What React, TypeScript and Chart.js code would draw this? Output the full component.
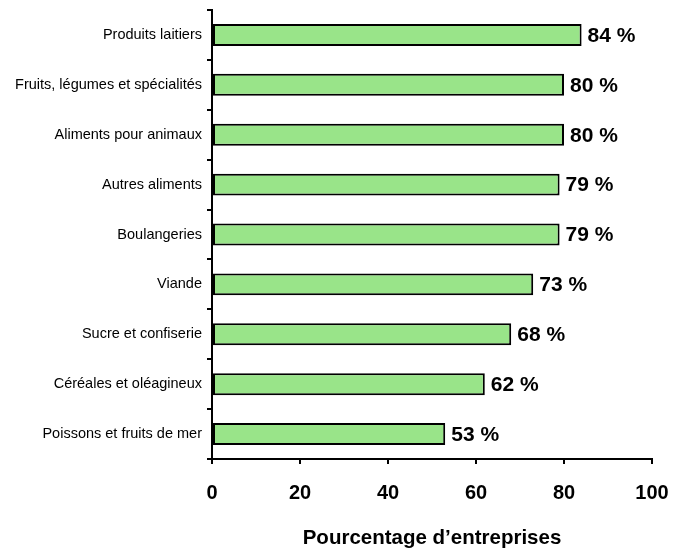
import React, { useEffect, useRef } from "react";
import { Chart, registerables } from "chart.js";

Chart.register(...registerables);

const categories = [
  "Produits laitiers",
  "Fruits, légumes et spécialités",
  "Aliments pour animaux",
  "Autres aliments",
  "Boulangeries",
  "Viande",
  "Sucre et confiserie",
  "Céréales et oléagineux",
  "Poissons et fruits de mer",
];
const values = [84, 80, 80, 79, 79, 73, 68, 62, 53];
const valueLabels = ["84 %", "80 %", "80 %", "79 %", "79 %", "73 %", "68 %", "62 %", "53 %"];
const xTicks = [0, 20, 40, 60, 80, 100];
const xTitle = "Pourcentage d’entreprises";

const FONT = "'Liberation Sans', Arial, sans-serif";

const valueLabelPlugin = {
  id: "valueLabels",
  afterDatasetsDraw(chart: any) {
    const ctx = chart.ctx;
    const meta = chart.getDatasetMeta(0);
    ctx.save();
    ctx.font = `bold 21px ${FONT}`;
    ctx.fillStyle = "#000";
    ctx.textAlign = "left";
    ctx.textBaseline = "middle";
    meta.data.forEach((bar: any, i: number) => {
      ctx.fillText(valueLabels[i], bar.x + 6, bar.y + 1);
    });
    ctx.restore();
  },
};

export default function App() {
  const ref = useRef<HTMLCanvasElement>(null);
  useEffect(() => {
    document.body.style.margin = "0";
    const chart = new Chart(ref.current!, {
      type: "bar",
      data: {
        labels: categories,
        datasets: [
          {
            data: values,
            backgroundColor: "#99E489",
            borderColor: "#000",
            borderWidth: 2,
            borderSkipped: false,
            barPercentage: 0.44,
            categoryPercentage: 1,
          },
        ],
      },
      options: {
        indexAxis: "y",
        animation: false,
        responsive: false,
        maintainAspectRatio: false,
        layout: { padding: { top: 10, right: 21, left: 0, bottom: 0 } },
        plugins: {
          legend: { display: false },
          tooltip: { enabled: false },
        },
        scales: {
          x: {
            min: 0,
            max: 100,
            afterBuildTicks: (scale: any) => {
              scale.ticks = xTicks.map((v) => ({ value: v }));
            },
            afterFit: (scale: any) => {
              scale.height = 89;
              scale.paddingLeft = 0;
              scale.paddingRight = 0;
            },
            grid: {
              drawOnChartArea: false,
              color: "#000",
              lineWidth: 2,
              tickLength: 5,
            },
            border: { color: "#000", width: 2 },
            ticks: {
              color: "#000",
              font: { family: FONT, size: 20, weight: "bold" },
              padding: 17,
              maxRotation: 0,
            },
            title: {
              display: true,
              text: xTitle,
              color: "#000",
              font: { family: FONT, size: 20.5, weight: "bold" },
              padding: { top: 0, bottom: -3 },
            },
          },
          y: {
            afterFit: (scale: any) => {
              scale.width = 212;
              scale.paddingTop = 0;
              scale.paddingBottom = 0;
            },
            grid: {
              drawOnChartArea: false,
              color: "#000",
              lineWidth: 2,
              tickLength: 5,
              offset: true,
            },
            border: { color: "#000", width: 2 },
            ticks: {
              color: "#000",
              font: { family: FONT, size: 14.5 },
              padding: 5,
            },
          },
        },
      },
      plugins: [valueLabelPlugin],
    } as any);
    return () => chart.destroy();
  }, []);
  return (
    <div style={{ position: "absolute", left: 0, top: 0, width: 673, height: 548 }}>
      <canvas ref={ref} width={673} height={548} style={{ width: 673, height: 548 }} />
    </div>
  );
}
